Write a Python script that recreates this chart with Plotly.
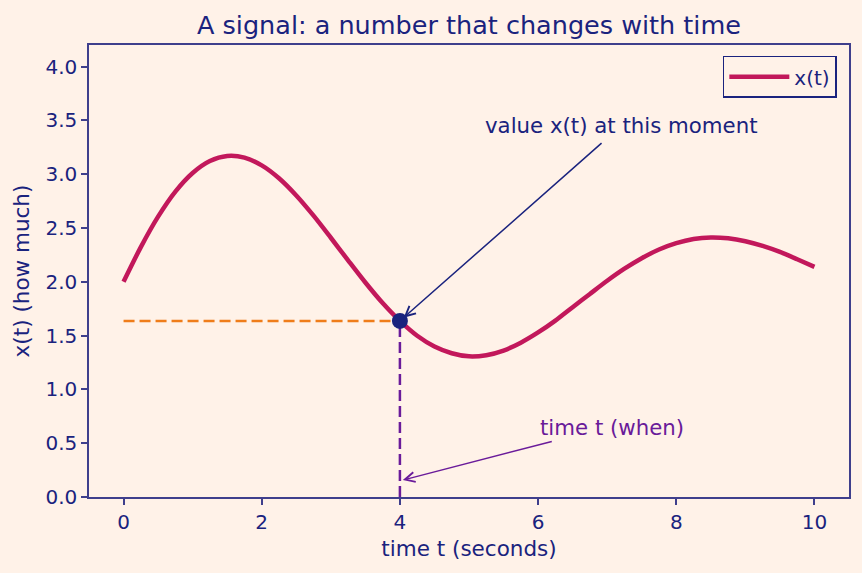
import plotly.graph_objects as go

# ---- data ----
t_vals = [0.0, 0.25, 0.5, 0.75, 1.0, 1.25, 1.5, 1.75, 2.0, 2.25,
          2.5, 2.75, 3.0, 3.25, 3.5, 3.75, 4.0, 4.25, 4.5, 4.75,
          5.0, 5.25, 5.5, 5.75, 6.0, 6.25, 6.5, 6.75, 7.0, 7.25,
          7.5, 7.75, 8.0, 8.25, 8.5, 8.75, 9.0, 9.25, 9.5, 9.75, 10.0]
x_vals = [2.000, 2.322, 2.605, 2.838, 3.011, 3.122, 3.169, 3.154, 3.082, 2.962,
          2.802, 2.614, 2.409, 2.199, 1.993, 1.802, 1.636, 1.498, 1.398, 1.336,
          1.307, 1.318, 1.361, 1.434, 1.529, 1.639, 1.764, 1.887, 2.009, 2.121,
          2.219, 2.300, 2.359, 2.398, 2.412, 2.404, 2.377, 2.333, 2.277, 2.209, 2.138]
t_moment = 4.0
x_moment = x_vals[t_vals.index(t_moment)]
x_ticks = [0, 2, 4, 6, 8, 10]
y_ticks = [0.0, 0.5, 1.0, 1.5, 2.0, 2.5, 3.0, 3.5, 4.0]

BG = "#fff2e8"
NAVY = "#1a237e"
SPINE = "#3f3f8c"
CURVE = "#c2185b"
ORANGE = "#ef7d1a"
PURPLE = "#6a1b9a"
FONT = "DejaVu Sans"

fig = go.Figure()

fig.add_trace(go.Scatter(
    x=[t_vals[0], t_moment], y=[x_moment, x_moment], mode="lines",
    line=dict(color=ORANGE, width=2.5, dash="11px,5px"),
    showlegend=False, hoverinfo="skip"))
fig.add_trace(go.Scatter(
    x=[t_moment, t_moment], y=[0, x_moment], mode="lines",
    line=dict(color=PURPLE, width=2.5, dash="11px,5px"),
    showlegend=False, hoverinfo="skip"))
fig.add_trace(go.Scatter(
    x=t_vals, y=x_vals, mode="lines", name="x(t)",
    line=dict(color=CURVE, width=4.5, shape="spline", smoothing=0.8)))
fig.add_trace(go.Scatter(
    x=[t_moment], y=[x_moment], mode="markers",
    marker=dict(color=NAVY, size=16), showlegend=False))

# annotations
fig.add_annotation(x=t_moment, y=x_moment, ax=6.94, ay=3.30,
                   xref="x", yref="y", axref="x", ayref="y",
                   text="", showarrow=True, arrowhead=5, arrowsize=1.3,
                   arrowwidth=1.5, arrowcolor=NAVY, standoff=5)
fig.add_annotation(x=5.2, y=3.45, xref="x", yref="y", text="value x(t) at this moment",
                   showarrow=False, xanchor="left", yanchor="middle",
                   font=dict(family=FONT, size=21.3, color=NAVY))
fig.add_annotation(x=t_moment, y=0.15, ax=6.22, ay=0.52,
                   xref="x", yref="y", axref="x", ayref="y",
                   text="", showarrow=True, arrowhead=5, arrowsize=1.3,
                   arrowwidth=1.5, arrowcolor=PURPLE, standoff=3)
fig.add_annotation(x=6.0, y=0.65, xref="x", yref="y", text="time t (when)",
                   showarrow=False, xanchor="left", yanchor="middle",
                   font=dict(family=FONT, size=21.3, color=PURPLE))

axis_common = dict(
    showgrid=False, zeroline=False, showline=True, linecolor=SPINE, linewidth=1.5,
    mirror=True, ticks="outside", ticklen=6, tickwidth=1.5, tickcolor=SPINE,
    tickfont=dict(family=FONT, size=20, color=NAVY),
)

fig.update_layout(
    width=862, height=573,
    paper_bgcolor=BG, plot_bgcolor=BG,
    margin=dict(l=89, r=13, t=45, b=76),
    font=dict(family=FONT, color=NAVY),
    title=dict(text="A signal: a number that changes with time",
               x=(89 + 849) / 2 / 862, xanchor="center",
               y=1 - 25 / 573, yanchor="middle", yref="container",
               font=dict(family=FONT, size=25.5, color=NAVY)),
    xaxis=dict(range=[-0.5, 10.5], tickvals=x_ticks,
               title=dict(text="time t (seconds)", standoff=8,
                          font=dict(family=FONT, size=21.5, color=NAVY)),
               **axis_common),
    yaxis=dict(range=[0, 4.2], tickvals=y_ticks, tickformat=".1f",
               title=dict(text="x(t) (how much)", standoff=10,
                          font=dict(family=FONT, size=21.5, color=NAVY)),
               **axis_common),
    legend=dict(x=0.984, y=0.976, xanchor="right", yanchor="top",
                bgcolor=BG, bordercolor=NAVY, borderwidth=1.5,
                itemwidth=60,
                font=dict(family=FONT, size=20, color=NAVY)),
)

fig.write_html("out.html")
